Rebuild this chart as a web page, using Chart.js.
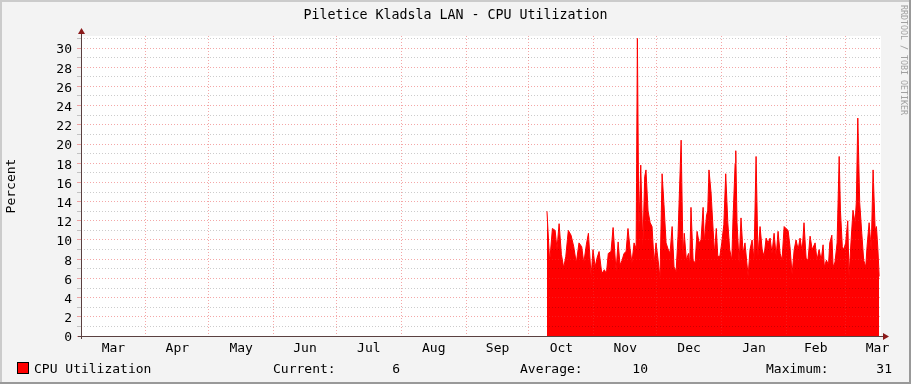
<!DOCTYPE html>
<html><head><meta charset="utf-8">
<script src="https://cdn.jsdelivr.net/npm/chart.js@4"></script>
<style>html,body{margin:0;padding:0;background:#f3f3f3;}#wrap{width:911px;height:384px;position:relative;}</style>
</head><body><div id="wrap"><canvas id="c" width="911" height="384"></canvas></div>
<script>
const chartTitle = 'Piletice Kladsla LAN - CPU Utilization';
const yAxisTitle = 'Percent';
const creditText = 'RRDTOOL / TOBI OETIKER';
const seriesName = 'CPU Utilization';
const monthLabels = ['Mar','Apr','May','Jun','Jul','Aug','Sep','Oct','Nov','Dec','Jan','Feb','Mar'];
const monthStartDays = [0,31,61,92,122,153,184,214,245,275,306,337,365];
const monthLengths = [31,30,31,30,31,31,30,31,30,31,31,28,31];
const xRangeDays = [0, 381.7];
const yRange = [0, 31.25];
const yTickValues = [0,1,2,3,4,5,6,7,8,9,10,11,12,13,14,15,16,17,18,19,20,21,22,23,24,25,26,27,28,29,30,31];
const statLabels = ['Current:','Average:','Maximum:'];
const statValues = ['6','10','31'];

const sampleDays = [
 222.6,223.9,225.2,226.5,227.4,228.4,229.5,230.6,231.6,232.8,234.1,235.4,236.6,237.9,239.2,240.2,241.4,242.4,243.7,244.6,245.6,246.5,247.5,248.8,250.0,251.0,251.9,253.2,254.2,
 255.6,256.6,257.5,258.5,259.4,260.4,261.3,262.3,263.2,264.2,265.2,265.8,266.5,267.4,268.4,269.3,269.9,270.9,271.9,272.8,273.8,274.7,275.7,276.6,277.6,278.5,279.5,280.4,281.4,282.4,283.3,284.3,285.2,
 286.7,287.6,288.2,289.2,290.2,290.8,291.4,292.4,293.4,294.3,295.3,296.2,297.2,297.8,298.8,299.4,300.0,301.0,302.0,302.6,303.5,304.2,305.2,306.1,307.1,308.0,309.0,309.9,310.9,311.5,312.5,312.8,313.4,314.4,315.3,316.3,317.2,
 318.7,319.6,320.6,321.5,322.5,323.4,324.4,325.4,326.3,327.3,328.2,329.2,330.1,331.1,332.1,333.0,334.0,334.9,335.9,336.8,337.8,338.7,339.7,340.7,341.6,342.6,343.5,344.5,345.4,346.4,347.3,348.3,349.3,
 350.7,351.6,352.6,353.6,354.5,355.1,356.1,357.1,357.7,358.7,359.3,360.2,361.2,362.2,362.8,363.7,364.4,365.3,366.3,366.9,367.9,368.8,369.8,370.4,371.1,372.0,373.0,373.9,374.9,375.5,376.5,377.5,378.4,379.4,380.0,380.7,381.3
];
const cpuValues = [
 13.0,7.7,11.2,11.0,9.1,11.7,8.5,7.1,8.3,11.0,10.5,9.3,7.6,9.7,9.3,7.6,9.5,10.7,6.2,9.0,7.2,8.1,8.8,6.5,6.9,6.5,8.6,8.8,11.3,
 6.8,9.8,7.4,7.9,8.6,8.8,11.2,9.1,7.6,9.7,9.1,31.0,11.0,17.8,9.3,16.6,17.3,13.0,11.8,11.4,7.6,9.7,7.9,6.0,16.9,13.7,9.7,9.1,8.6,11.4,7.2,6.7,10.4,
 20.4,8.3,10.7,7.9,8.6,7.4,13.4,7.9,7.6,10.9,9.7,10.0,13.4,9.8,12.5,13.1,17.3,14.9,11.0,8.6,11.2,8.3,8.3,9.7,11.6,16.9,11.8,9.0,7.9,12.3,18.0,19.3,11.8,7.6,12.3,8.6,9.7,
 6.2,9.0,10.0,7.9,18.7,8.3,11.4,9.0,8.3,10.2,9.7,10.2,8.6,10.7,8.3,10.9,8.6,7.9,11.4,11.2,11.0,9.3,6.4,9.0,10.0,9.0,10.2,8.8,11.8,8.1,7.9,10.4,9.0,
 9.7,7.9,9.0,7.9,9.5,7.2,7.9,7.4,9.7,10.5,7.2,7.7,9.7,18.7,13.1,9.3,9.0,9.7,12.0,6.2,10.0,13.1,11.8,14.0,22.7,13.9,10.7,7.9,7.2,9.3,11.8,9.0,17.3,11.0,11.4,9.0,6.2
];

const MONO = "'DejaVu Sans Mono', 'Liberation Mono', monospace";
const labelDays = monthStartDays.map((d, i) => d + monthLengths[i] / 2);
const gridDays = monthStartDays.filter(d => d > xRangeDays[0] && d < xRangeDays[1]);
const MAJOR = 'rgba(230,60,60,0.45)';
const MINOR = 'rgba(0,0,0,0.2)';

const frame = {
  id: 'frame',
  beforeDraw(chart) {
    const {ctx, width, height, chartArea: a} = chart;
    ctx.save();
    ctx.fillStyle = '#f3f3f3';
    ctx.fillRect(0, 0, width, height);
    ctx.fillStyle = '#cbcbcb';
    ctx.fillRect(0, 0, width, 2);
    ctx.fillRect(0, 0, 2, height);
    ctx.fillStyle = '#999999';
    ctx.fillRect(width - 2, 0, 2, height);
    ctx.fillRect(0, height - 2, width, 2);
    ctx.fillStyle = '#ffffff';
    ctx.fillRect(a.left, a.top, a.right - a.left + 1, a.bottom - a.top);
    ctx.restore();
  },
  afterDraw(chart) {
    const {ctx, chartArea: a, width} = chart;
    ctx.save();
    // axes
    ctx.strokeStyle = '#5a4040';
    ctx.lineWidth = 1;
    ctx.beginPath();
    ctx.moveTo(a.left + 0.5, a.bottom + 3);
    ctx.lineTo(a.left + 0.5, a.top - 4);
    ctx.moveTo(a.left - 3, a.bottom + 0.5);
    ctx.lineTo(a.right + 4, a.bottom + 0.5);
    ctx.stroke();
    ctx.fillStyle = '#8b1a1a';
    ctx.beginPath();
    ctx.moveTo(a.left + 0.5, a.top - 8);
    ctx.lineTo(a.left - 3, a.top - 2);
    ctx.lineTo(a.left + 4, a.top - 2);
    ctx.closePath();
    ctx.fill();
    ctx.beginPath();
    ctx.moveTo(a.right + 9, a.bottom + 0.5);
    ctx.lineTo(a.right + 3, a.bottom - 3);
    ctx.lineTo(a.right + 3, a.bottom + 4);
    ctx.closePath();
    ctx.fill();
    // title
    ctx.fillStyle = '#000';
    ctx.font = '13.3px ' + MONO;
    ctx.textAlign = 'center';
    ctx.textBaseline = 'middle';
    ctx.fillText(chartTitle, width / 2, 15.5);
    // credit
    ctx.save();
    ctx.translate(903, 5);
    ctx.rotate(Math.PI / 2);
    ctx.font = '8.3px ' + MONO;
    ctx.fillStyle = '#a0a0a0';
    ctx.textAlign = 'left';
    ctx.fillText(creditText, 0, 0);
    ctx.restore();
    // legend
    const ly = 368;
    ctx.fillStyle = '#ff0000';
    ctx.fillRect(17, ly - 6, 12, 12);
    ctx.strokeStyle = '#000';
    ctx.strokeRect(17.5, ly - 5.5, 11, 11);
    ctx.fillStyle = '#000';
    ctx.font = '13px ' + MONO;
    ctx.textAlign = 'left';
    const ty = ly + 1.5;
    ctx.fillText(seriesName, 34, ty);
    const labX = [273, 520, 766];
    const valRight = [400, 648, 892];
    statLabels.forEach((s, i) => {
      ctx.textAlign = 'left';
      ctx.fillText(s, labX[i], ty);
      ctx.textAlign = 'right';
      ctx.fillText(statValues[i], valRight[i], ty);
    });
    ctx.restore();
  }
};

new Chart(document.getElementById('c'), {
  type: 'line',
  data: {
    datasets: [{
      label: seriesName,
      data: sampleDays.map((d, i) => ({x: d, y: cpuValues[i]})),
      borderColor: '#ff0000',
      backgroundColor: '#ff0000',
      borderWidth: 1,
      pointRadius: 0,
      tension: 0,
      fill: 'origin'
    }]
  },
  options: {
    responsive: false,
    animation: false,
    devicePixelRatio: 1,
    layout: {padding: {left: 0, right: 31, top: 36, bottom: 0}},
    plugins: {legend: {display: false}, title: {display: false}, tooltip: {enabled: false}},
    scales: {
      x: {
        type: 'linear',
        min: xRangeDays[0],
        max: xRangeDays[1],
        afterBuildTicks(scale) {
          const vals = gridDays.concat(labelDays.filter(d => d < xRangeDays[1])).sort((p, q) => p - q);
          scale.ticks = vals.map(v => ({value: v}));
        },
        afterFit(scale) { scale.height = 48; },
        ticks: {
          autoSkip: false,
          maxRotation: 0,
          padding: 5,
          color: '#000',
          font: {family: MONO, size: 13},
          callback(v) { const i = labelDays.indexOf(v); return i >= 0 ? monthLabels[i] : ''; }
        },
        grid: {
          drawTicks: false,
          z: 1,
          color(ctx) { return ctx.tick && labelDays.indexOf(ctx.tick.value) >= 0 ? 'rgba(0,0,0,0)' : MAJOR; }
        },
        border: {display: false, dash: [1, 2]}
      },
      y: {
        type: 'linear',
        min: yRange[0],
        max: yRange[1],
        afterBuildTicks(scale) { scale.ticks = yTickValues.map(v => ({value: v})); },
        afterFit(scale) { scale.width = 81; },
        title: {display: true, text: yAxisTitle, color: '#000', font: {family: MONO, size: 13}, padding: {top: 4, bottom: 0}},
        ticks: {
          autoSkip: false,
          padding: 5,
          labelOffset: 2,
          color: '#000',
          font: {family: MONO, size: 13},
          callback(v) { return v % 2 === 0 ? String(v) : ''; }
        },
        grid: {
          z: 1,
          tickLength: 4,
          color(ctx) { return ctx.tick && ctx.tick.value % 2 === 0 ? MAJOR : MINOR; }
        },
        border: {display: false, dash: [1, 2]}
      }
    }
  },
  plugins: [frame]
});
</script></body></html>
